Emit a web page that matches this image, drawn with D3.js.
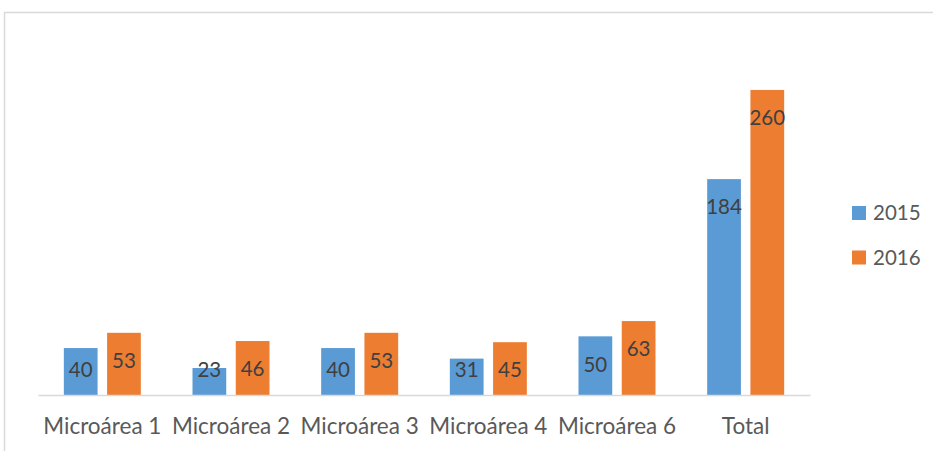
<!DOCTYPE html>
<html>
<head>
<meta charset="utf-8">
<script src="https://cdn.jsdelivr.net/npm/d3@7"></script>
<style>
  html, body { margin: 0; padding: 0; background: #fff; }
  svg { display: block; font-family: Lato, "Open Sans", sans-serif; }
</style>
</head>
<body>
<svg id="chart" width="933" height="451"></svg>
<script>
const categories = ['Microárea 1', 'Microárea 2', 'Microárea 3', 'Microárea 4', 'Microárea 6', 'Total'];
const seriesNames = ['2015', '2016'];
const values2015 = [40, 23, 40, 31, 50, 184];
const values2016 = [53, 46, 53, 45, 63, 260];
const colors = ['#5B9BD5', '#ED7D31'];

const width = 933, height = 451;
const margin = { top: 43, left: 38, right: 123, bottom: 56 };
const baseline = height - margin.bottom;

const svg = d3.select('#chart');

// chart area frame (only top and left edges are inside the picture)
svg.append('rect')
  .attr('x', 4.5).attr('y', 12.5)
  .attr('width', 1000).attr('height', 1000)
  .attr('fill', 'none')
  .attr('stroke', '#D9D9D9')
  .attr('stroke-width', 1.5);

const x = d3.scaleBand()
  .domain(categories)
  .range([margin.left, width - margin.right])
  .paddingInner(0)
  .paddingOuter(0);

const groupWidth = 77;
const x1 = d3.scaleBand()
  .domain(seriesNames)
  .range([(x.bandwidth() - groupWidth) / 2, (x.bandwidth() + groupWidth) / 2])
  .paddingInner(0.22);

const y = d3.scaleLinear()
  .domain([0, 300])
  .range([baseline, margin.top]);

const rows = categories.map((c, i) => ({
  cat: c,
  vals: [values2015[i], values2016[i]]
}));

const groups = svg.append('g')
  .selectAll('g')
  .data(rows)
  .join('g')
  .attr('transform', d => `translate(${x(d.cat)},0)`);

const bars = groups.selectAll('g')
  .data(d => d.vals.map((v, j) => ({ v, s: seriesNames[j], j })))
  .join('g');

bars.append('rect')
  .attr('x', d => x1(d.s))
  .attr('width', x1.bandwidth())
  .attr('y', d => y(d.v))
  .attr('height', d => baseline - y(d.v))
  .attr('fill', d => colors[d.j]);

bars.append('text')
  .attr('x', d => x1(d.s) + x1.bandwidth() / 2)
  .attr('y', d => Math.min(y(d.v) + 28, baseline - 25))
  .attr('dy', '0.35em')
  .attr('text-anchor', 'middle')
  .attr('font-size', 20.5)
  .attr('fill', '#404040')
  .text(d => d.v);

// x axis
const xAxis = svg.append('g')
  .attr('transform', `translate(0,${baseline})`)
  .call(d3.axisBottom(x).tickSize(0).tickPadding(23));
xAxis.select('.domain').attr('stroke', '#D9D9D9').attr('stroke-width', 1.5);
xAxis.selectAll('text')
  .attr('font-size', 22.5)
  .attr('font-family', 'Lato, "Open Sans", sans-serif')
  .attr('fill', '#595959');

// legend
const legend = svg.append('g')
  .selectAll('g')
  .data(seriesNames)
  .join('g')
  .attr('transform', (d, i) => `translate(852,${206 + i * 44.5})`);

legend.append('rect')
  .attr('width', 14).attr('height', 14)
  .attr('fill', (d, i) => colors[i]);

legend.append('text')
  .attr('x', 21).attr('y', 7)
  .attr('dy', '0.35em')
  .attr('font-size', 20.5)
  .attr('fill', '#595959')
  .text(d => d);
</script>
</body>
</html>
